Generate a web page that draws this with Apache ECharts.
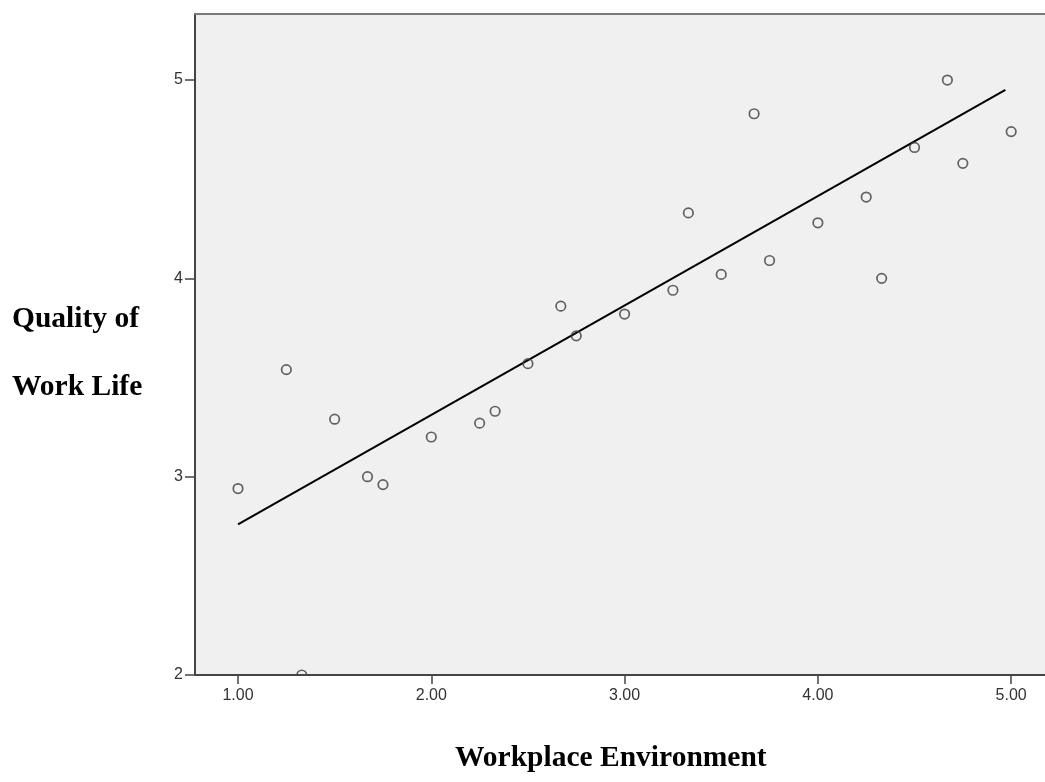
<!DOCTYPE html>
<html>
<head>
<meta charset="utf-8">
<script src="https://cdn.jsdelivr.net/npm/echarts@6/dist/echarts.min.js"></script>
<style>
  html, body { margin: 0; padding: 0; background: #ffffff; }
  #chart { width: 1045px; height: 782px; }
</style>
</head>
<body>
<div id="chart"></div>
<script>
// Workplace Environment (x) against Quality of Work Life (y), one point per respondent group
const workplace = [1.00, 1.25, 1.33, 1.50, 1.67, 1.75, 2.00, 2.25, 2.33, 2.50, 2.67, 2.75, 3.00,
                   3.25, 3.33, 3.50, 3.67, 3.75, 4.00, 4.25, 4.33, 4.50, 4.67, 4.75, 5.00];
const qualityOfWorkLife = [2.94, 3.54, 2.00, 3.29, 3.00, 2.96, 3.20, 3.27, 3.33, 3.57, 3.86, 3.71, 3.82,
                           3.94, 4.33, 4.02, 4.83, 4.09, 4.28, 4.41, 4.00, 4.66, 5.00, 4.58, 4.74];

// Fitted linear trend, end points
const fitX = [1.00, 4.97];
const fitY = [2.76, 4.95];

// Tick values and labels
const xTicks = [1, 2, 3, 4, 5];
const yTicks = [2, 3, 4, 5];
const xTitle = 'Workplace Environment';
const yTitleLines = ['Quality of', 'Work Life'];

const points = workplace.map((x, i) => [x, qualityOfWorkLife[i]]);
const fitLine = fitX.map((x, i) => [x, fitY[i]]);

const chart = echarts.init(document.getElementById('chart'), null, { renderer: 'canvas' });

const axisText = { color: '#333', fontSize: 16, fontFamily: 'Liberation Sans, Arial, sans-serif' };
const titleFont = 'bold 29.5px "Liberation Serif", "Times New Roman", serif';
const X_MIN = 0.7775, X_MAX = 5.175;

chart.setOption({
  animation: false,
  backgroundColor: '#ffffff',
  grid: {
    left: 195, top: 14, right: 0, bottom: 107,
    show: true,
    backgroundColor: '#f0f0f0',
    borderWidth: 0
  },
  xAxis: [
    {
      type: 'value',
      min: X_MIN, max: X_MAX,
      z: 10,
      splitLine: { show: false },
      axisLine: { onZero: false, lineStyle: { color: '#444', width: 2 } },
      axisTick: { customValues: xTicks, length: 9, lineStyle: { color: '#444', width: 1.5 } },
      axisLabel: Object.assign({ customValues: xTicks, margin: 13, formatter: v => v.toFixed(2) }, axisText)
    },
    {
      // frame line along the top of the plot area
      type: 'value',
      position: 'top',
      min: X_MIN, max: X_MAX,
      z: 10,
      splitLine: { show: false },
      axisLine: { onZero: false, lineStyle: { color: '#7a7a7a', width: 2 } },
      axisTick: { show: false },
      axisLabel: { show: false }
    }
  ],
  yAxis: {
    type: 'value',
    min: 2, max: 5.333,
    z: 10,
    splitLine: { show: false },
    axisLine: { onZero: false, lineStyle: { color: '#444', width: 2 } },
    axisTick: { customValues: yTicks, length: 10, lineStyle: { color: '#444', width: 1.5 } },
    axisLabel: Object.assign({ customValues: yTicks, margin: 12, formatter: v => String(v) }, axisText)
  },
  series: [
    {
      type: 'line',
      data: fitLine,
      symbol: 'none',
      lineStyle: { color: '#000', width: 2 },
      z: 2
    },
    {
      type: 'scatter',
      data: points,
      symbol: 'circle',
      symbolSize: 9.5,
      clip: false,
      itemStyle: { color: 'rgba(0,0,0,0)', borderColor: '#3c3c3c', borderWidth: 1.7 },
      z: 3
    }
  ],
  graphic: [
    // white band under the plot floor so edge markers are cut at the axis
    { type: 'rect', z: 5, shape: { x: 196, y: 676, width: 849, height: 8 }, style: { fill: '#ffffff' } },
    { type: 'text', left: 12, top: 304, style: { text: yTitleLines[0], font: titleFont, fill: '#000' } },
    { type: 'text', left: 12, top: 372, style: { text: yTitleLines[1], font: titleFont, fill: '#000' } },
    { type: 'text', left: 455, top: 743, style: { text: xTitle, font: titleFont, fill: '#000' } }
  ]
});
</script>
</body>
</html>
